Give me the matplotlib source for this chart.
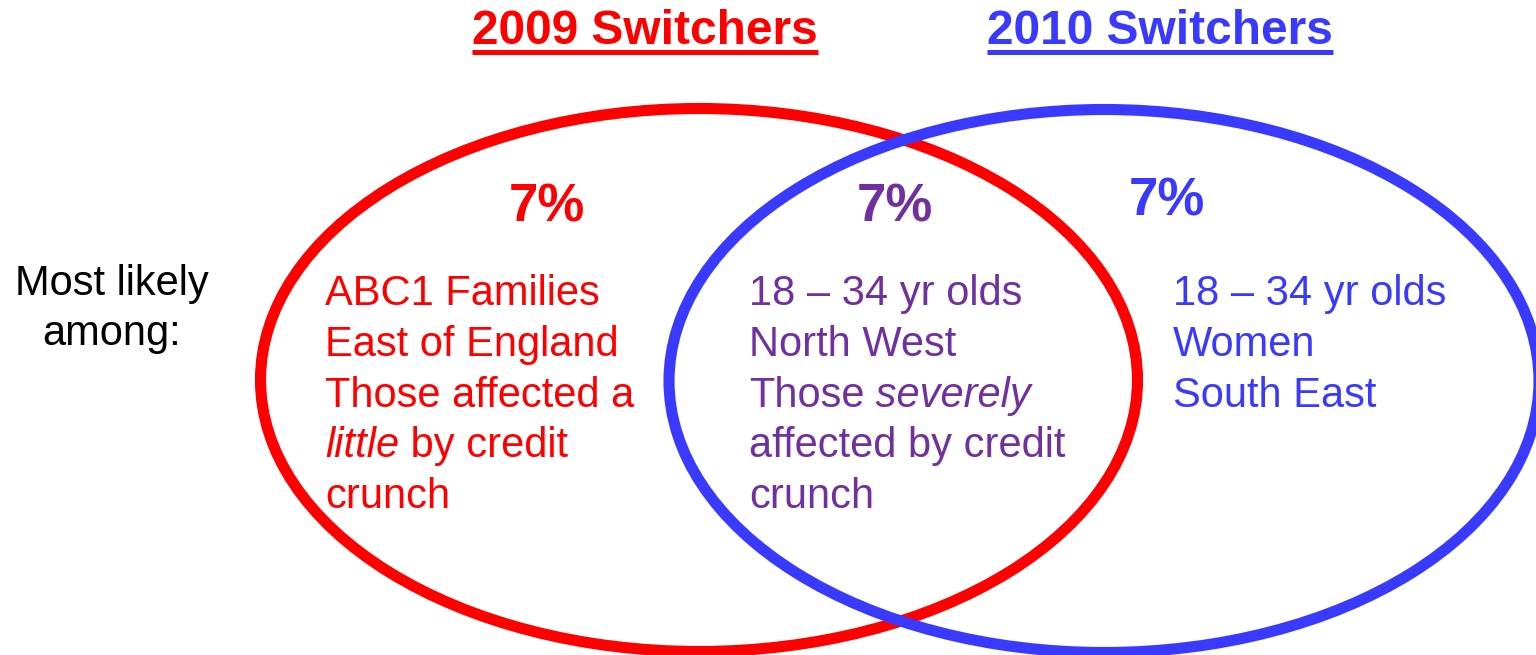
import matplotlib
matplotlib.use("Agg")
import matplotlib.pyplot as plt
from matplotlib.patches import Ellipse

plt.rcParams["font.family"] = ["Liberation Sans", "DejaVu Sans"]

RED = "#ff0000"; BLUE = "#3a3aff"; PURPLE = "#7030a0"

titles = ["2009 Switchers", "2010 Switchers"]
title_colors = [RED, BLUE]
percents = ["7%", "7%", "7%"]
percent_colors = [RED, PURPLE, BLUE]
side_label = ["Most likely", "among:"]
# each line is a list of (text, italic) segments
red_lines = [[("ABC1 Families", False)], [("East of England", False)],
             [("Those affected a", False)], [("little", True), (" by credit", False)],
             [("crunch", False)]]
purple_lines = [[("18 \u2013 34 yr olds", False)], [("North West", False)],
                [("Those", False), (" severely", True)], [("affected by credit", False)],
                [("crunch", False)]]
blue_lines = [[("18 \u2013 34 yr olds", False)], [("Women", False)], [("South East", False)]]

W, H = 1536, 655
fig = plt.figure(figsize=(W / 100, H / 100), dpi=100)
ax = fig.add_axes([0, 0, 1, 1])
ax.set_xlim(0, W); ax.set_ylim(H, 0); ax.axis("off")

# circles (pixel coords)
ax.add_patch(Ellipse((699, 380), 877, 543, fill=False, ec=RED, lw=8))
ax.add_patch(Ellipse((1104, 381), 870, 543, fill=False, ec=BLUE, lw=8))

r = fig.canvas.get_renderer()

# titles with underline
for txt, c, cx in zip(titles, title_colors, [645, 1160]):
    t = ax.text(cx, 44, txt, color=c, fontsize=34.5, fontweight="bold", ha="center", va="baseline")
    w = t.get_window_extent(r).width
    ax.plot([cx - w / 2, cx + w / 2], [51.5, 51.5], color=c, lw=3.6, solid_capstyle="butt")

for txt, c, cx, by in zip(percents, percent_colors, [547, 895, 1167], [222, 222, 216]):
    ax.text(cx, by, txt, color=c, fontsize=38, fontweight="bold", ha="center", va="baseline")

for i, txt in enumerate(side_label):
    ax.text(112, 295 + 50 * i, txt, color="black", fontsize=30, ha="center", va="baseline")

def block(lines, x0, color):
    for i, segs in enumerate(lines):
        x = x0
        for s, it in segs:
            t = ax.text(x, 305 + 50.8 * i, s, color=color, fontsize=30, va="baseline",
                        fontstyle="italic" if it else "normal")
            x += t.get_window_extent(r).width

block(red_lines, 325, RED)
block(purple_lines, 749, PURPLE)
block(blue_lines, 1173, BLUE)

fig.savefig("out.png", dpi=100)
